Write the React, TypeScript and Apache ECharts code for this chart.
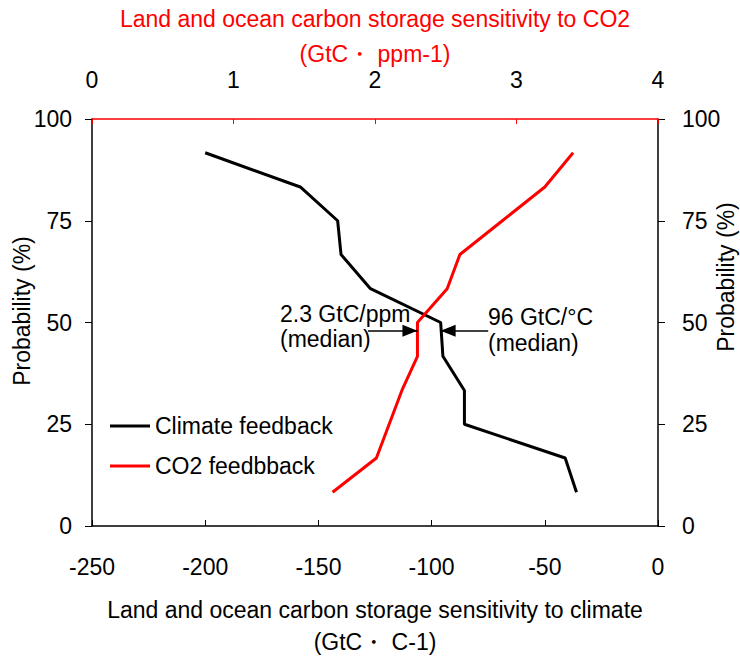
import React, { useEffect, useRef } from "react";
import * as echarts from "echarts";

// Cumulative probability levels (%) shared by both curves
const probability = [8.3, 16.7, 25, 33.3, 41.7, 50, 58.3, 66.7, 75, 83.3, 91.7];

// Carbon storage sensitivity to climate (GtC per °C), bottom axis
const climateFeedback = [-36, -41, -85.5, -85.5, -95, -96, -127, -140, -141.5, -158, -200];

// Carbon storage sensitivity to CO2 (GtC per ppm), top axis
const co2Feedback = [1.7, 2.01, 2.1, 2.19, 2.3, 2.3, 2.51, 2.6, 2.9, 3.2, 3.4];

// Medians pointed at by the arrows
const climateMedian = -96;
const co2Median = 2.3;
const arrowLevel = 48;
const climateArrowStart = -75;
const co2ArrowStart = 1.95;

const FONT = "'Liberation Sans', Arial, sans-serif";
const RED = "#ff0000";

export default function App() {
  const ref = useRef<HTMLDivElement>(null);

  useEffect(() => {
    if (!ref.current) return;
    const chart = echarts.init(ref.current, undefined, { renderer: "svg" });

    const climateData = probability.map((p, i) => [climateFeedback[i], p]);
    const co2Data = probability.map((p, i) => [co2Feedback[i], p]);

    // Horizontal arrow; the head is pulled back half its length so its tip sits on the median
    const arrowMarkLine = (from: number, to: number) => ({
      silent: true,
      symbol: ["none", "triangle"],
      symbolSize: [12, 15],
      symbolOffset: [0, [0, 7.5]],
      label: { show: false },
      lineStyle: { color: "#000", width: 1.5, type: "solid", opacity: 1 },
      emphasis: { disabled: true },
      data: [[{ coord: [from, arrowLevel] }, { coord: [to, arrowLevel] }]],
    });

    chart.setOption({
      animation: false,
      textStyle: { fontFamily: FONT },
      grid: {
        left: 92,
        right: 82,
        top: 119,
        bottom: 131,
        containLabel: false,
        outerBoundsMode: "none",
      },
      legend: {
        orient: "vertical",
        left: 105,
        top: 409,
        icon: "rect",
        itemWidth: 40,
        itemHeight: 3,
        itemGap: 16,
        textStyle: { fontSize: 23, color: "#000", lineHeight: 24, fontFamily: FONT },
        data: ["Climate feedback", "CO2 feedbback"],
      },
      xAxis: [
        {
          type: "value",
          position: "bottom",
          min: -250,
          max: 0,
          interval: 50,
          splitLine: { show: false },
          axisLine: { show: true, onZero: false, lineStyle: { color: "#000", width: 1.5 } },
          axisTick: { show: true, inside: true, length: 6, lineStyle: { color: "#000" } },
          axisLabel: { fontSize: 23, color: "#000", margin: 29, lineHeight: 24, fontFamily: FONT },
          name: "Land and ocean carbon storage sensitivity to climate\n(GtC・ C-1)",
          nameLocation: "middle",
          nameGap: 68,
          nameTextStyle: { fontSize: 23, color: "#000", lineHeight: 32, fontFamily: FONT },
        },
        {
          type: "value",
          position: "top",
          min: 0,
          max: 4,
          interval: 1,
          splitLine: { show: false },
          axisLine: { show: true, onZero: false, lineStyle: { color: RED, width: 1.5 } },
          axisTick: { show: true, inside: true, length: 5, lineStyle: { color: RED } },
          axisLabel: { fontSize: 23, color: "#000", margin: 27, lineHeight: 24, fontFamily: FONT },
          name: "Land and ocean carbon storage sensitivity to CO2\n(GtC・ ppm-1)",
          nameLocation: "middle",
          nameGap: 48,
          nameMoveOverlap: false,
          nameTextStyle: { fontSize: 23, color: RED, lineHeight: 35, fontFamily: FONT },
        },
      ],
      yAxis: [
        {
          type: "value",
          position: "left",
          min: 0,
          max: 100,
          interval: 25,
          splitLine: { show: false },
          axisLine: { show: true, onZero: false, lineStyle: { color: "#000", width: 1.5 } },
          axisTick: { show: true, inside: false, length: 7, lineStyle: { color: "#000" } },
          axisLabel: { fontSize: 23, color: "#000", margin: 20, fontFamily: FONT },
        },
        {
          type: "value",
          position: "right",
          min: 0,
          max: 100,
          interval: 25,
          splitLine: { show: false },
          axisLine: { show: true, onZero: false, lineStyle: { color: "#000", width: 1.5 } },
          axisTick: { show: true, inside: false, length: 7, lineStyle: { color: "#000" } },
          axisLabel: { fontSize: 23, color: "#000", margin: 24, fontFamily: FONT },
        },
      ],
      series: [
        {
          name: "Climate feedback",
          type: "line",
          xAxisIndex: 0,
          yAxisIndex: 0,
          data: climateData,
          symbol: "none",
          lineStyle: { color: "#000", width: 3 },
          itemStyle: { color: "#000" },
          markLine: arrowMarkLine(climateArrowStart, climateMedian),
          z: 3,
        },
        {
          name: "CO2 feedbback",
          type: "line",
          xAxisIndex: 1,
          yAxisIndex: 0,
          data: co2Data,
          symbol: "none",
          lineStyle: { color: RED, width: 3 },
          itemStyle: { color: RED },
          markLine: arrowMarkLine(co2ArrowStart, co2Median),
          z: 4,
        },
      ],
      graphic: [
        {
          type: "text",
          x: 21.7,
          y: 311,
          rotation: Math.PI / 2,
          style: {
            text: "Probability (%)",
            fontSize: 23,
            fontFamily: FONT,
            fill: "#000",
            align: "center",
            verticalAlign: "middle",
          },
        },
        {
          type: "text",
          x: 726,
          y: 277,
          rotation: Math.PI / 2,
          style: {
            text: "Probability (%)",
            fontSize: 23,
            fontFamily: FONT,
            fill: "#000",
            align: "center",
            verticalAlign: "middle",
          },
        },
        {
          type: "text",
          x: 280,
          y: 326,
          style: {
            text: `${co2Median} GtC/ppm\n(median)`,
            fontSize: 23,
            lineHeight: 25,
            fontFamily: FONT,
            fill: "#000",
            align: "left",
            verticalAlign: "middle",
          },
        },
        {
          type: "text",
          x: 488,
          y: 330,
          style: {
            text: `${Math.abs(climateMedian)} GtC/°C\n(median)`,
            fontSize: 23,
            lineHeight: 26,
            fontFamily: FONT,
            fill: "#000",
            align: "left",
            verticalAlign: "middle",
          },
        },
      ],
    });

    return () => chart.dispose();
  }, []);

  return (
    <div
      ref={ref}
      style={{ position: "fixed", left: 0, top: 0, width: 740, height: 657, background: "#fff" }}
    />
  );
}
